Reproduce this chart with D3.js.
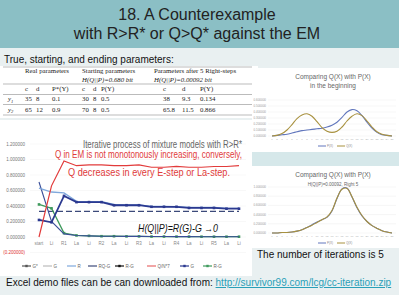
<!DOCTYPE html>
<html>
<head>
<meta charset="utf-8">
<script src="https://cdn.jsdelivr.net/npm/d3@7"></script>
<style>
  html, body { margin: 0; padding: 0; background: #e9f0f1; }
  svg { display: block; font-family: "Liberation Sans", Arial, sans-serif; }
</style>
</head>
<body>
<div id="slide"></div>
<script>
// ---- data ----
const steps = ["start", "Li", "R1", "La", "Li", "R2", "La", "Li", "R3", "La", "Li", "R4", "La", "Li", "R5", "La", "Li"];
const yTicks = [-0.2, 0, 0.2, 0.4, 0.6, 0.8, 1.0, 1.2];

const qSeries    = [0, 0.66, 0.98, 0.92, 0.93, 0.93, 0.92, 0.92, 0.93, 0.90, 0.90, 0.91, 0.90, 0.90, 0.91, 0.91, 0.92];
const gSeries    = [0.22, 0.19, 0.53, 0.45, 0.45, 0.45, 0.41, 0.41, 0.41, 0.39, 0.39, 0.39, 0.375, 0.375, 0.375, 0.365, 0.365];
const rSeries    = [0.63, 0.58, 0.57, 0.46, 0.455, 0.455, 0.42, 0.415, 0.415, 0.395, 0.395, 0.39, 0.38, 0.38, 0.38, 0.37, 0.37];
const rgSeries   = [0.42, 0.37, 0.05, 0.02, 0.015, 0.01, 0.01, 0.008, 0.008, 0.006, 0.006, 0.005, 0.005, 0.004, 0.004, 0.004, 0.004];
const hSeries    = [0.71, 0.20, 0.04, 0.02, 0.015, 0.01, 0.01, 0.008, 0.008, 0.006, 0.006, 0.005, 0.005, 0.004, 0.004, 0.004, 0.004];
const gStar      = [0.33, 0.33, 0.33, 0.33, 0.33, 0.33, 0.33, 0.33, 0.33, 0.33, 0.33, 0.33, 0.33, 0.33, 0.33, 0.33, 0.33];

const legendNames = ["G*", "G", "R", "RQ-G", "R-G", "Q/N*7", "G", "R-G"];
const legendColors = ["#555", "#bbb", "#7fa8dc", "#3c4a7a", "#111", "#e86a6a", "#2b3990", "#3f9a5c"];
const legendMarks = [true, false, false, false, true, false, true, true];

// small charts: P(X) and Q(X) over 25 points
const pBegin = [0, 0.01, 0.02, 0.03, 0.05, 0.07, 0.09, 0.10, 0.11, 0.12, 0.13, 0.15, 0.18, 0.23, 0.31, 0.40, 0.44, 0.42, 0.34, 0.23, 0.13, 0.06, 0.02, 0.01, 0];
const qBegin = [0, 0.01, 0.04, 0.10, 0.19, 0.29, 0.35, 0.37, 0.33, 0.24, 0.14, 0.08, 0.06, 0.08, 0.15, 0.25, 0.33, 0.37, 0.34, 0.25, 0.15, 0.07, 0.03, 0.01, 0];
const pEnd = [0, 0, 0.01, 0.01, 0.02, 0.04, 0.07, 0.12, 0.18, 0.24, 0.29, 0.34, 0.48, 0.75, 0.96, 0.98, 0.78, 0.55, 0.37, 0.25, 0.16, 0.10, 0.05, 0.02, 0];
const qEnd = [0, 0, 0.01, 0.01, 0.02, 0.04, 0.07, 0.12, 0.17, 0.23, 0.29, 0.35, 0.49, 0.76, 0.95, 0.97, 0.79, 0.56, 0.38, 0.25, 0.16, 0.10, 0.05, 0.02, 0];

// table rows
const tableHead = ["Real parameters", "Starting parameters", "Parameters after 5 Right-steps"];
const tableSub = ["", "H(Q||P)=0.680 bit", "H(Q||P)=0.00092 bit"];
const tableCols = ["c", "d", "P*(Y)", "c", "d", "P(Y)", "c", "d", "P(Y)"];
const tableRows = [
  ["y1", "35", "8", "0.1", "30", "8", "0.5", "38", "9.3", "0.134"],
  ["y2", "65", "12", "0.9", "70", "8", "0.5", "65.8", "11.5", "0.866"]
];

const W = 399, H = 295;
const svg = d3.select("#slide").append("svg").attr("width", W).attr("height", H);

// ---- background panels ----
svg.append("rect").attr("width", W).attr("height", H).attr("fill", "#e9f0f1");
svg.append("rect").attr("width", W).attr("height", 48).attr("fill", "#8bbfc5");
svg.append("rect").attr("x", 0).attr("y", 66).attr("width", 258).attr("height", 52).attr("fill", "#fff");
svg.append("rect").attr("x", 0).attr("y", 120).attr("width", 252).attr("height", 156).attr("fill", "#fff");
svg.append("rect").attr("x", 252).attr("y", 68).attr("width", 147).attr("height", 84).attr("fill", "#fff");
svg.append("rect").attr("x", 252).attr("y", 166).attr("width", 147).attr("height", 82).attr("fill", "#fff");

// ---- title ----
svg.append("text").attr("x", 197).attr("y", 20).attr("text-anchor", "middle")
  .attr("font-size", 16).attr("fill", "#222").text("18. A Counterexample");
svg.append("text").attr("x", 197).attr("y", 39).attr("text-anchor", "middle")
  .attr("font-size", 16).attr("fill", "#222").text("with R>R* or Q>Q* against the EM");

svg.append("text").attr("x", 4).attr("y", 63).attr("font-size", 10).attr("fill", "#111")
  .text("True, starting, and ending parameters:");

// ---- table ----
const tb = svg.append("g").attr("font-family", "Liberation Serif, serif").attr("font-size", 6.8).attr("fill", "#222");
const colX = [8, 25, 36, 52, 82, 93, 101, 163, 182, 200];
[25, 82, 154].forEach((x, i) => {
  tb.append("text").attr("x", x).attr("y", 73).text(tableHead[i]);
  tb.append("text").attr("x", x).attr("y", 81.5).attr("font-style", "italic").text(tableSub[i]);
});
tableCols.forEach((c, i) => tb.append("text").attr("x", colX[i + 1]).attr("y", 91).text(c));
tableRows.forEach((row, r) => {
  row.forEach((v, i) => {
    const t = tb.append("text").attr("x", colX[i]).attr("y", 101 + r * 10.5);
    if (i === 0) {
      t.attr("font-style", "italic").text("y");
      t.append("tspan").attr("font-size", 4.5).attr("dy", 1.5).text(r + 1);
    } else t.text(v);
  });
});
[67, 84, 94.5, 104.5, 115].forEach(y => {
  tb.append("line").attr("x1", 3).attr("x2", 252).attr("y1", y).attr("y2", y)
    .attr("stroke", "#777").attr("stroke-width", 0.5);
});

// ---- main iteration chart ----
const x = d3.scalePoint().domain(d3.range(steps.length)).range([39, 239]);
const y = d3.scaleLinear().domain([-0.2, 1.2]).range([252.5, 144]);

const main = svg.append("g");
main.selectAll("line.grid").data(yTicks).enter().append("line")
  .attr("x1", 30).attr("x2", 246).attr("y1", d => y(d)).attr("y2", d => y(d))
  .attr("stroke", "#f0f0f0").attr("stroke-width", 0.5);

main.selectAll("text.ytick").data(yTicks).enter().append("text")
  .attr("x", 25).attr("y", d => y(d) + 1.5).attr("text-anchor", "end")
  .attr("font-size", 4.5).attr("fill", d => d < 0 ? "#d33" : "#777")
  .text(d => d < 0 ? "(" + d3.format(".6f")(-d) + ")" : d3.format(".6f")(d));

main.selectAll("text.xtick").data(steps).enter().append("text")
  .attr("x", (d, i) => x(i)).attr("y", 244.5).attr("text-anchor", "middle")
  .attr("font-size", 4.5).attr("fill", "#888").text(d => d);

const line = d3.line().x((d, i) => x(i)).y(d => y(d));

function drawSeries(values, color, width, dash, marks) {
  main.append("path").datum(values).attr("d", line).attr("fill", "none")
    .attr("stroke", color).attr("stroke-width", width)
    .attr("stroke-dasharray", dash || null);
  if (marks) {
    main.append("g").selectAll("rect").data(values).enter().append("rect")
      .attr("x", (d, i) => x(i) - 1.3).attr("y", d => y(d) - 1.3)
      .attr("width", 2.6).attr("height", 2.6).attr("fill", color);
  }
}

drawSeries(gStar, "#3c4a7a", 1.3, "6,3", false);
drawSeries(rgSeries, "#3f9a5c", 1.3, null, true);
drawSeries(hSeries, "#3a4e98", 1.1, null, false);
drawSeries(rSeries, "#7fa8dc", 1.4, null, false);
drawSeries(gSeries, "#2b3990", 1.8, null, true);
drawSeries(qSeries, "#e23b3b", 1.2, null, false);

// annotations (widths fitted to the reference)
function note(txt, x0, yb, size, len, color, italic) {
  main.append("text").attr("x", x0).attr("y", yb).attr("font-size", size)
    .attr("fill", color).attr("font-style", italic ? "italic" : null)
    .attr("textLength", len).attr("lengthAdjust", "spacingAndGlyphs").text(txt);
}
note("Iterative process of mixture models with R>R*", 83, 147.5, 10.5, 159, "#666");
note("Q in EM is not monotonously increasing, conversely,", 55, 157.5, 10, 187, "#e03a3a");
note("Q decreases in every E-step or La-step.", 68, 176, 11.5, 162, "#e03a3a");
note("H(Q||P)=R(G)-G →0", 138, 231.5, 10.5, 80, "#111", true);

// legend
const legX = [22, 43, 67, 88, 115, 147, 180, 203];
const leg = main.append("g").attr("font-size", 4.5).attr("fill", "#666");
legendNames.forEach((name, i) => {
  leg.append("line").attr("x1", legX[i]).attr("x2", legX[i] + 9).attr("y1", 266).attr("y2", 266)
    .attr("stroke", legendColors[i]).attr("stroke-width", 1.2);
  if (legendMarks[i]) {
    leg.append("rect").attr("x", legX[i] + 3.3).attr("y", 264.8).attr("width", 2.4).attr("height", 2.4)
      .attr("fill", legendColors[i]);
  }
  leg.append("text").attr("x", legX[i] + 10.5).attr("y", 267.5).text(name);
});

// ---- small comparison charts ----
const xs = d3.scalePoint().domain(d3.range(pBegin.length)).range([272, 392]);
const smallLine = d3.line().x((d, i) => xs(i)).curve(d3.curveCatmullRom);

function smallChart(top, bottom, pVals, qVals, maxV, title, sub, titleY, legendY) {
  const ys = d3.scaleLinear().domain([0, maxV]).range([bottom, top]);
  const g = svg.append("g");
  const ticks = ys.ticks(6);
  g.selectAll("line").data(ticks).enter().append("line")
    .attr("x1", 268).attr("x2", 396).attr("y1", d => ys(d)).attr("y2", d => ys(d))
    .attr("stroke", "#ececec").attr("stroke-width", 0.5);
  g.selectAll("text.yl").data(ticks).enter().append("text")
    .attr("x", 266).attr("y", d => ys(d) + 1).attr("text-anchor", "end")
    .attr("font-size", 3).attr("fill", "#999").text(d => d3.format(".6f")(d));
  g.selectAll("text.xl").data(pVals).enter().append("text")
    .attr("x", (d, i) => xs(i)).attr("y", bottom + 4).attr("text-anchor", "middle")
    .attr("font-size", 2.5).attr("fill", "#aaa").text((d, i) => i + 1);
  g.append("path").datum(pVals).attr("d", smallLine.y(d => ys(d))).attr("fill", "none")
    .attr("stroke", "#6277bd").attr("stroke-width", 1.1);
  g.append("path").datum(qVals).attr("d", smallLine.y(d => ys(d))).attr("fill", "none")
    .attr("stroke", "#a8913f").attr("stroke-width", 1.1);
  g.append("text").attr("x", 333).attr("y", titleY).attr("text-anchor", "middle")
    .attr("font-size", 6.5).attr("fill", "#666").text(title);
  g.append("text").attr("x", 333).attr("y", titleY + 8.5).attr("text-anchor", "middle")
    .attr("font-size", sub.length > 20 ? 4.5 : 6.5).attr("fill", "#666").text(sub);
  [["P(X)", "#6277bd", 318], ["Q(X)", "#a8913f", 337]].forEach(([n, c, lx]) => {
    g.append("line").attr("x1", lx).attr("x2", lx + 8).attr("y1", legendY).attr("y2", legendY)
      .attr("stroke", c).attr("stroke-width", 1);
    g.append("text").attr("x", lx + 9).attr("y", legendY + 1).attr("font-size", 3).attr("fill", "#888").text(n);
  });
}

svg.append("rect").attr("x", 252).attr("y", 152).attr("width", 147).attr("height", 14).attr("fill", "#d6e8ea");
smallChart(100, 136, pBegin, qBegin, 0.6, "Comparing Q(X) with P(X)", "in the beginning", 79, 146);
smallChart(187, 233, pEnd, qEnd, 1.0, "Comparing Q(X) with P(X)", "H(Q||P)=0.00092, Right 5", 177, 243);

// ---- footer ----
svg.append("text").attr("x", 257).attr("y", 258).attr("font-size", 10).attr("fill", "#111")
  .text("The number of iterations is 5");
const foot = svg.append("text").attr("x", 6).attr("y", 286).attr("font-size", 10).attr("fill", "#111");
foot.append("tspan").text("Excel demo files can be can downloaded from: ");
foot.append("tspan").attr("fill", "#2aa0b8").attr("text-decoration", "underline")
  .text("http://survivor99.com/lcg/cc-iteration.zip");
</script>
</body>
</html>
